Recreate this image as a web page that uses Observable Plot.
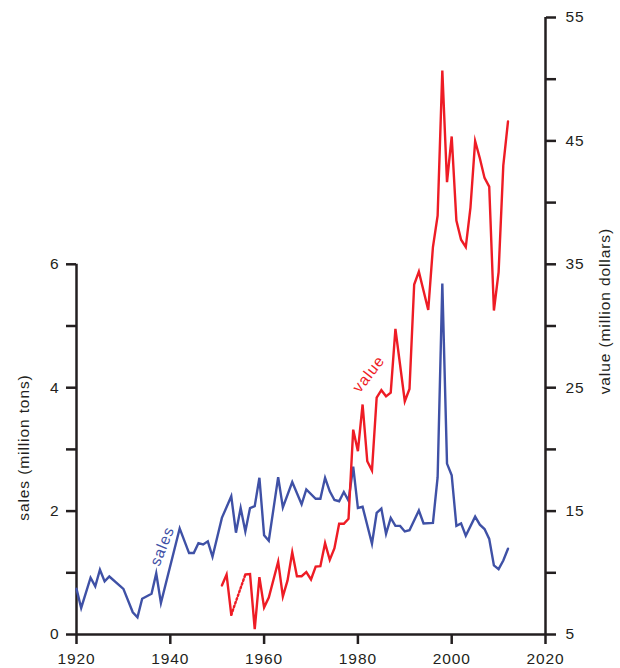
<!DOCTYPE html>
<html><head><meta charset="utf-8">
<script src="https://cdn.jsdelivr.net/npm/d3@7"></script>
<script src="https://cdn.jsdelivr.net/npm/@observablehq/plot@0.6"></script>
<style>
html,body{margin:0;padding:0;background:#fff}
#chart svg{display:block}
</style>
</head><body><div id="chart"></div>
<script>
// ---- data ----
const salesYears = [1920,1921,1923,1924,1925,1926,1927,1930,1932,1933,1934,1936,1937,1938,1942,1944,1945,1946,1947,1948,1949,1951,1953,1954,1955,1956,1957,1958,1959,1960,1961,1963,1964,1966,1968,1969,1971,1972,1973,1974,1975,1976,1977,1978,1979,1980,1981,1983,1984,1985,1986,1987,1988,1989,1990,1991,1993,1994,1996,1997,1998,1999,2000,2001,2002,2003,2005,2006,2007,2008,2009,2010,2011,2012];
const salesTons = [0.74,0.43,0.92,0.78,1.05,0.86,0.94,0.74,0.36,0.28,0.58,0.66,0.99,0.51,1.72,1.32,1.32,1.48,1.46,1.51,1.26,1.89,2.24,1.65,2.05,1.67,2.05,2.08,2.54,1.61,1.52,2.55,2.06,2.47,2.11,2.35,2.2,2.2,2.54,2.32,2.18,2.16,2.31,2.17,2.72,2.05,2.07,1.47,1.97,2.04,1.63,1.89,1.76,1.76,1.67,1.69,2.01,1.80,1.81,2.55,5.69,2.77,2.58,1.76,1.80,1.60,1.91,1.78,1.71,1.55,1.12,1.06,1.2,1.39];
const valueYears = [1951,1952,1953,1956,1957,1958,1959,1960,1961,1963,1964,1965,1966,1967,1968,1969,1970,1971,1972,1973,1974,1975,1976,1977,1978,1979,1980,1981,1982,1983,1984,1985,1986,1987,1988,1990,1991,1992,1993,1995,1996,1997,1998,1999,2000,2001,2002,2003,2004,2005,2006,2007,2008,2009,2010,2011,2012];
const valueDollars = [8.97,9.86,6.6,9.86,9.9,5.43,9.65,7.2,8.0,10.9,8.08,9.38,11.67,9.72,9.72,10.05,9.46,10.5,10.54,12.4,11.05,12.0,13.97,13.97,14.38,21.6,19.86,23.64,19.04,18.29,24.2,24.8,24.3,24.6,29.77,23.9,24.9,33.36,34.4,31.3,36.4,38.95,50.7,41.65,45.36,38.55,36.99,36.4,39.6,44.98,43.6,42.0,41.3,31.25,34.36,43.0,46.57];
const gapYears = [1953, 1956]; // dotted (missing data) stretch of the value series
const xTicks = [1920,1940,1960,1980,2000,2020];
const leftTicks = [0,1,2,3,4,5,6];
const leftLabels = [0,2,4,6];
const rightTicks = [5,10,15,20,25,30,35,40,45,50,55];
const rightLabels = [5,15,25,35,45,55];

// ---- build ----
const BLUE = "#3f51a6", RED = "#ee1c25", INK = "#231f20";
const FS = 15.5;
const toY = v => (v - 5) / 5;           // value (million $) -> sales-axis units
const fromY = y => Math.round(y * 5 + 5);

const sales = salesYears.map((year, i) => ({year, s: salesTons[i]}));
const value = valueYears.map((year, i) => ({year, v: valueDollars[i], seg: year <= gapYears[0] ? 0 : 1}));
const gap = value.filter(d => d.year >= gapYears[0] && d.year <= gapYears[1]);

const chart = Plot.plot({
  width: 620, height: 668,
  marginLeft: 76, marginRight: 75, marginTop: 17, marginBottom: 34,
  style: {fontFamily: "'Liberation Sans', Arial, Helvetica, sans-serif", fontSize: FS + "px", letterSpacing: "0.9px", color: INK, background: "#fff"},
  x: {domain: [1920, 2020]},
  y: {domain: [0, 10]},
  marks: [
    Plot.axisX(xTicks, {anchor: "bottom", tickSize: 10, tickPadding: 8, strokeWidth: 2.5, label: null, tickFormat: d => String(d), fontSize: FS}),
    Plot.axisY(leftTicks, {anchor: "left", tickSize: 10, tickPadding: 7, strokeWidth: 2.5, label: null, fontSize: FS,
      tickFormat: d => leftLabels.includes(d) ? String(d) : ""}),
    Plot.axisY(rightTicks.map(toY), {anchor: "right", tickSize: 10, tickPadding: 10, strokeWidth: 2.5, label: null, fontSize: FS,
      tickFormat: d => rightLabels.includes(fromY(d)) ? String(fromY(d)) : ""}),
    Plot.ruleY([0], {x1: 1920, x2: 2020, stroke: INK, strokeWidth: 2.5}),
    Plot.ruleX([1920], {y1: 0, y2: 6, stroke: INK, strokeWidth: 2.5}),
    Plot.ruleX([2020], {y1: 0, y2: 10, stroke: INK, strokeWidth: 2.5}),
    Plot.line(sales, {x: "year", y: "s", stroke: BLUE, strokeWidth: 2.4, strokeLinejoin: "miter", strokeMiterlimit: 6}),
    Plot.line(value, {x: "year", y: d => toY(d.v), z: "seg", stroke: RED, strokeWidth: 2.4, strokeLinejoin: "miter", strokeMiterlimit: 6}),
    Plot.line(gap, {x: "year", y: d => toY(d.v), stroke: RED, strokeWidth: 2.4, strokeDasharray: "1.6 2.4"}),
    Plot.text(["sales"], {x: 1938.3, y: 1.43, rotate: -68, fill: BLUE, fontSize: FS}),
    Plot.text(["value"], {x: 1982.3, y: toY(26.1), rotate: -52, fill: RED, fontSize: FS}),
    Plot.text(["sales (million tons)"], {x: 1920, y: 3.03, dx: -52, rotate: -90, fill: INK, fontSize: FS}),
    Plot.text(["value (million dollars)"], {x: 2020, y: toY(31.2), dx: 60, rotate: -90, fill: INK, fontSize: FS})
  ]
});
document.getElementById("chart").appendChild(chart);
</script>
</body></html>
